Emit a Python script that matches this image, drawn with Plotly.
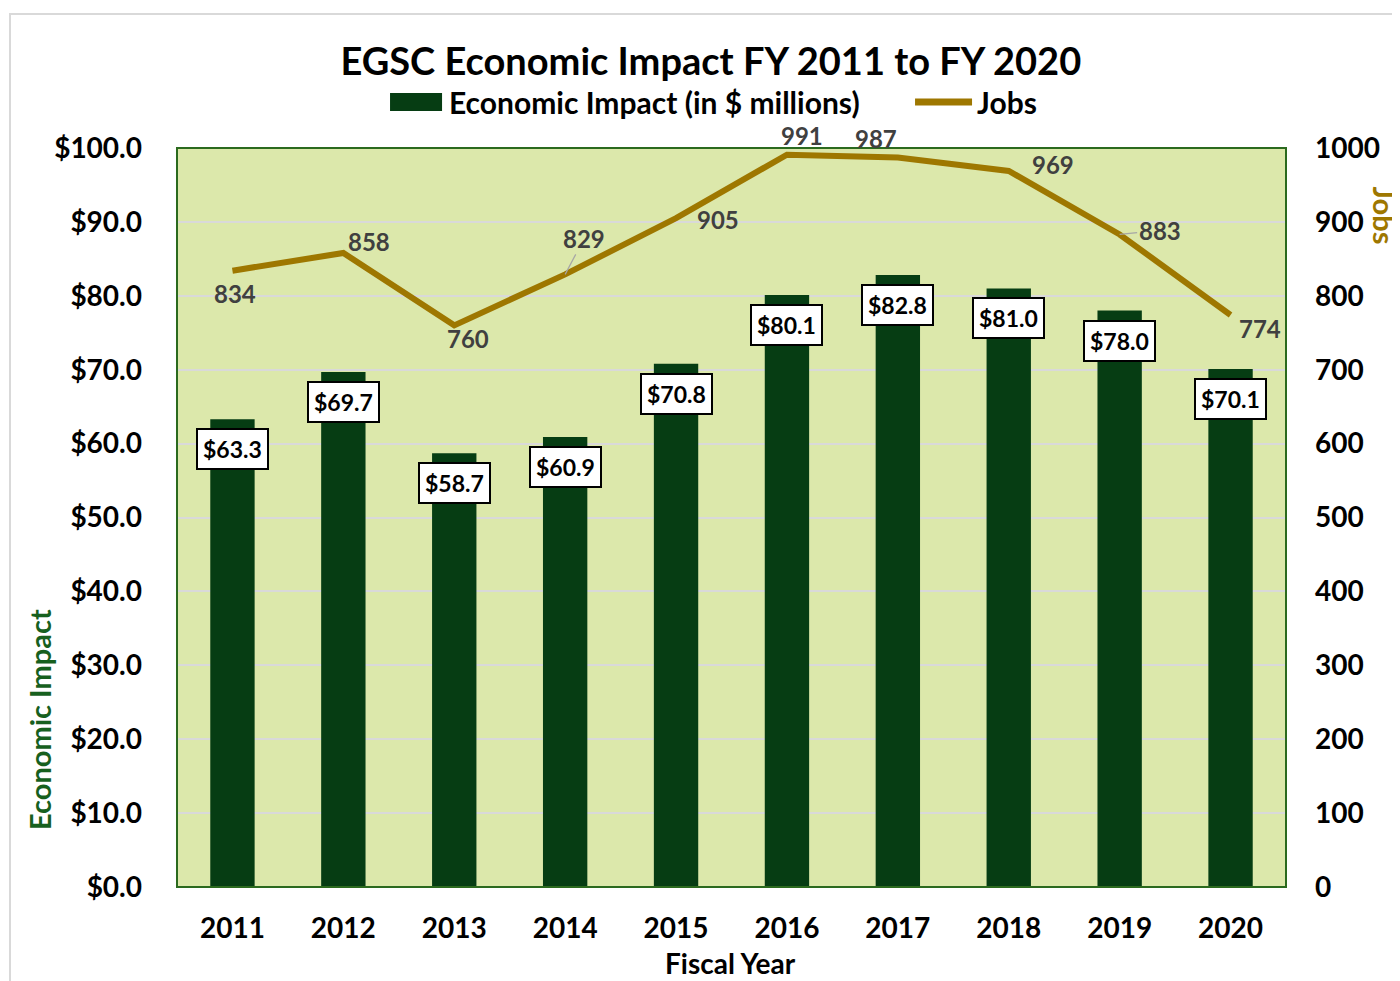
import plotly.graph_objects as go

years = ["2011", "2012", "2013", "2014", "2015", "2016", "2017", "2018", "2019", "2020"]
impact = [63.3, 69.7, 58.7, 60.9, 70.8, 80.1, 82.8, 81.0, 78.0, 70.1]
jobs = [834, 858, 760, 829, 905, 991, 987, 969, 883, 774]
left_ticks = [0, 10, 20, 30, 40, 50, 60, 70, 80, 90, 100]
right_ticks = [0, 100, 200, 300, 400, 500, 600, 700, 800, 900, 1000]

FONT = "Lato"
BAR_C = "#063D13"
LINE_C = "#9E7700"
BG = "#DCE8AB"

# label offsets for job labels (pixels, +y = up): (xshift, yshift, leader line?)
job_offsets = [(3, -23, False), (26, 11, False), (14, -13, False), (19, 36, True),
               (42, -1, False), (15, 19, False), (-22, 19, False), (44, 6, False),
               (40, 4, True), (29, -13, False)]

fig = go.Figure()
fig.add_trace(go.Bar(
    x=years, y=impact, name="Economic Impact (in $ millions)",
    marker=dict(color=BAR_C, line=dict(width=0)), width=0.4, showlegend=False,
))
fig.add_trace(go.Scatter(
    x=years, y=jobs, name="Jobs", yaxis="y2", mode="lines",
    line=dict(color=LINE_C, width=6), showlegend=False,
))

ann = []
for i, v in enumerate(impact):
    ann.append(dict(
        x=i, y=v, xref="x", yref="y", text=f"${v:.1f}", showarrow=False,
        yanchor="top", yshift=-9, bgcolor="white", bordercolor="black",
        borderwidth=2, borderpad=5,
        font=dict(family=FONT, size=23, color="black", weight="bold"),
    ))
for i, (v, (dx, dy, arr)) in enumerate(zip(jobs, job_offsets)):
    f = dict(family=FONT, size=24, color="#404040", weight="bold")
    if arr:
        ann.append(dict(
            x=i, y=v, xref="x", yref="y2", text=str(v), showarrow=True,
            ax=dx, ay=-dy, arrowhead=0, arrowwidth=1.2, arrowcolor="#A6A6A6",
            standoff=0, font=f,
        ))
    else:
        ann.append(dict(
            x=i, y=v, xref="x", yref="y2", text=str(v), showarrow=False,
            xshift=dx, yshift=dy, font=f,
        ))

# axis titles
ann.append(dict(x=-0.1235, y=0.226, xref="paper", yref="paper", text="Economic Impact",
                showarrow=False, textangle=-90, xanchor="center", yanchor="middle",
                font=dict(family=FONT, size=29, color="#17601E", weight="bold")))
ann.append(dict(x=1.089, y=0.909, xref="paper", yref="paper", text="Jobs",
                showarrow=False, textangle=90, xanchor="center", yanchor="middle",
                font=dict(family=FONT, size=29, color=LINE_C, weight="bold")))
ann.append(dict(x=0.499, y=-0.1025, xref="paper", yref="paper", text="Fiscal Year",
                showarrow=False, xanchor="center", yanchor="middle",
                font=dict(family=FONT, size=28, color="black", weight="bold")))
# legend texts
leg_font = dict(family=FONT, size=30, color="black", weight="bold")
ann.append(dict(x=0.2435, y=1.0622, xref="paper", yref="paper",
                text="Economic Impact (in $ millions)", showarrow=False,
                xanchor="left", yanchor="middle", font=leg_font))
ann.append(dict(x=0.7196, y=1.0622, xref="paper", yref="paper", text="Jobs",
                showarrow=False, xanchor="left", yanchor="middle", font=leg_font))

fig.update_layout(
    width=1400, height=981,
    margin=dict(l=169, r=122, t=140, b=102),
    paper_bgcolor="white", plot_bgcolor=BG,
    title=dict(text="EGSC Economic Impact FY 2011 to FY 2020", x=0.502, xanchor="center",
               y=0.945, yanchor="middle",
               font=dict(family=FONT, size=38, color="black", weight="bold")),
    showlegend=False,
    xaxis=dict(type="category", range=[-0.5, 9.5], showgrid=False, zeroline=False, ticks="",
               tickfont=dict(family=FONT, size=28, color="black", weight="bold"),
               ticklabelstandoff=22),
    yaxis=dict(range=[0, 100], tickvals=left_ticks,
               ticktext=[f"${t:.1f}" for t in left_ticks],
               showgrid=True, gridcolor="#D9D9D9", gridwidth=2, zeroline=False,
               tickfont=dict(family=FONT, size=28, color="black", weight="bold"),
               ticklabelstandoff=34),
    yaxis2=dict(range=[0, 1000], tickvals=right_ticks, overlaying="y", side="right",
                showgrid=False, zeroline=False,
                tickfont=dict(family=FONT, size=28, color="black", weight="bold"),
                ticklabelstandoff=28),
    annotations=ann,
    shapes=[
        dict(type="rect", xref="paper", yref="paper", x0=0, y0=0, x1=1, y1=1,
             line=dict(color="#2B6A1E", width=2), layer="above"),
        dict(type="rect", xref="paper", yref="paper", x0=-0.1506, y0=-0.25, x1=1.2, y1=1.1813,
             line=dict(color="#D9D9D9", width=2), layer="below"),
        # legend symbols
        dict(type="rect", xref="paper", yref="paper", x0=0.1921, y0=1.0501, x1=0.2390, y1=1.0744,
             fillcolor=BAR_C, line=dict(width=0)),
        dict(type="line", xref="paper", yref="paper", x0=0.6655, y0=1.0622, x1=0.7169, y1=1.0622,
             line=dict(color=LINE_C, width=7)),
    ],
)

fig.write_html("out.html")
